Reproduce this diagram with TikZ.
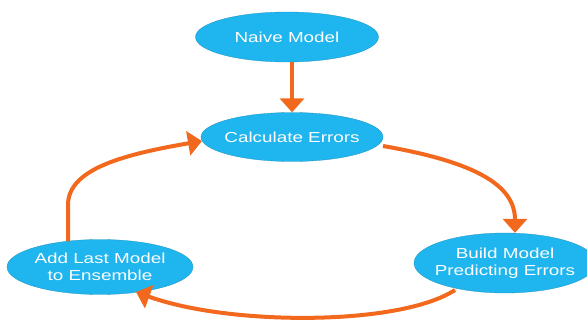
\documentclass[tikz,border=0pt]{standalone}
\usepackage{fontspec}
\newfontfamily\labfont[FakeStretch=1.3]{Liberation Sans}
\usetikzlibrary{arrows.meta,shapes.geometric}
\definecolor{nodecyan}{HTML}{1FB5EE}
\definecolor{arroworange}{HTML}{F2691E}
\tikzset{
  bubble/.style={ellipse, fill=nodecyan, draw=nodecyan!80!black, line width=0.3pt,
    inner xsep=-40pt, inner ysep=-10pt,
    text=white, font=\labfont\fontsize{14.5}{17}\selectfont, align=center},
  flow/.style={draw=arroworange, line width=4pt, -{Triangle[width=24pt,length=14pt]}}
}
\begin{document}
\begin{tikzpicture}[x=1pt,y=-1pt]
\useasboundingbox (0,0) rectangle (587,321);
\node[bubble, minimum width=183pt, minimum height=50pt] (nm) at (287,37) {Naive Model};
\node[bubble, minimum width=182pt, minimum height=49pt] (ce) at (292,137) {Calculate Errors};
\node[bubble, minimum width=186pt, minimum height=55pt] (al) at (100,267) {Add Last Model\\to Ensemble};
\node[bubble, minimum width=182pt, minimum height=60pt] (bm) at (505,263) {Build Model\\Predicting Errors};
\draw[flow] (nm.south -| ce.north) -- (ce.north);
\coordinate (c1) at (383,146);
\draw[flow] (c1) .. controls (475,162) and (515,185) .. (bm.north -| 515,0);
\coordinate (c2) at (455,290);
\coordinate (c3) at (136,292);
\draw[flow] (c2) .. controls (400,326) and (230,326) .. (c3);
\coordinate (c4) at (68,241);
\coordinate (c5) at (202,141);
\draw[flow] (c4) -- (68,205) .. controls (68,170) and (120,155) .. (c5);
\end{tikzpicture}
\end{document}
